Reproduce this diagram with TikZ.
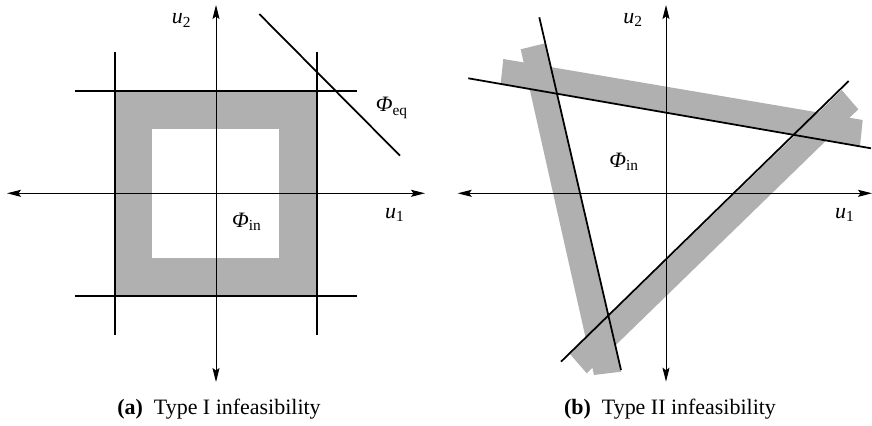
\documentclass[tikz,border=0pt]{standalone}
\usepackage{fontspec}
\setmainfont{Liberation Serif}
\usetikzlibrary{arrows.meta}

\begin{document}
\begin{tikzpicture}[
    x=0.016cm, y=-0.016cm,
    % Styles
    axis/.style={
        {Stealth[length=6.4pt, width=3.2pt, inset=1.2pt]}-{Stealth[length=6.4pt, width=3.2pt, inset=1.2pt]},
        line width=0.45pt, color=black
    },
    bound/.style={
        line width=0.8pt, color=black
    },
    band/.style={
        fill=bandgray, draw=none
    },
    lbl/.style={
        font=\normalsize, inner sep=0pt
    },
    caption/.style={
        font=\normalsize, inner sep=0pt
    },
]
% Define colors
\definecolor{bandgray}{RGB}{176,176,176}

\useasboundingbox (0,0) rectangle (872,426);

%% (a) Type I

% Gray ring
\fill[band] (115,90.7) rectangle (316.7,296);
\fill[white] (152,129.3) rectangle (279,257.7);

% Axes
\coordinate (aw) at (7,193.3);
\coordinate (ae) at (425,193.3);
\coordinate (an) at (216,5);
\coordinate (as) at (216,382);
\draw[axis] (aw) -- (ae);
\draw[axis] (as) -- (an);

% Bounds
\draw[bound] (115,51.7) -- (115,335);
\draw[bound] (316.7,51.7) -- (316.7,335);
\draw[bound] (75,90.7) -- (356.7,90.7);
\draw[bound] (75,296) -- (356.7,296);
\draw[bound] (259.3,14) -- (400,155.7);

% Labels
\node[lbl] (u2a) at (181.7,20.5) {\textit{u}\textsubscript{2}};
\node[lbl] (u1a) at (395,215) {\textit{u}\textsubscript{1}};
\node[lbl] (phieq) at (392,108) {\textit{Φ}\textsubscript{eq}};
\node[lbl] (phina) at (247,222) {\textit{Φ}\textsubscript{in}};
\node[caption] (capa) at (219,409) {\textbf{(a)}\enspace Type I infeasibility};

%% (b) Type II

% Gray strips
\fill[band] (500.7,83.5) -- (860,146) -- (862.7,120) -- (503.3,59) -- cycle;
\fill[band] (545.3,43.3) -- (621.2,371.7) -- (594,375) -- (520.7,49.3) -- cycle;
\fill[band] (570,354) -- (841.7,90) -- (858.3,109.3) -- (586.7,373.3) -- cycle;

% Axes
\coordinate (bw) at (457.7,193.3);
\coordinate (be) at (872,193.3);
\coordinate (bn) at (666,5);
\coordinate (bs) at (666,381.7);
\draw[axis] (bw) -- (be);
\draw[axis] (bs) -- (bn);

% Constraint lines
\draw[bound] (468.3,78.3) -- (871,148.3);
\draw[bound] (539.3,17.3) -- (621,370);
\draw[bound] (561,361.7) -- (848.7,81);

% Labels
\node[lbl] (u2b) at (633.3,20) {\textit{u}\textsubscript{2}};
\node[lbl] (u1b) at (845,215) {\textit{u}\textsubscript{1}};
\node[lbl] (phinb) at (624.3,161.7) {\textit{Φ}\textsubscript{in}};
\node[caption] (capb) at (670,409) {\textbf{(b)}\enspace Type II infeasibility};

\end{tikzpicture}
\end{document}
